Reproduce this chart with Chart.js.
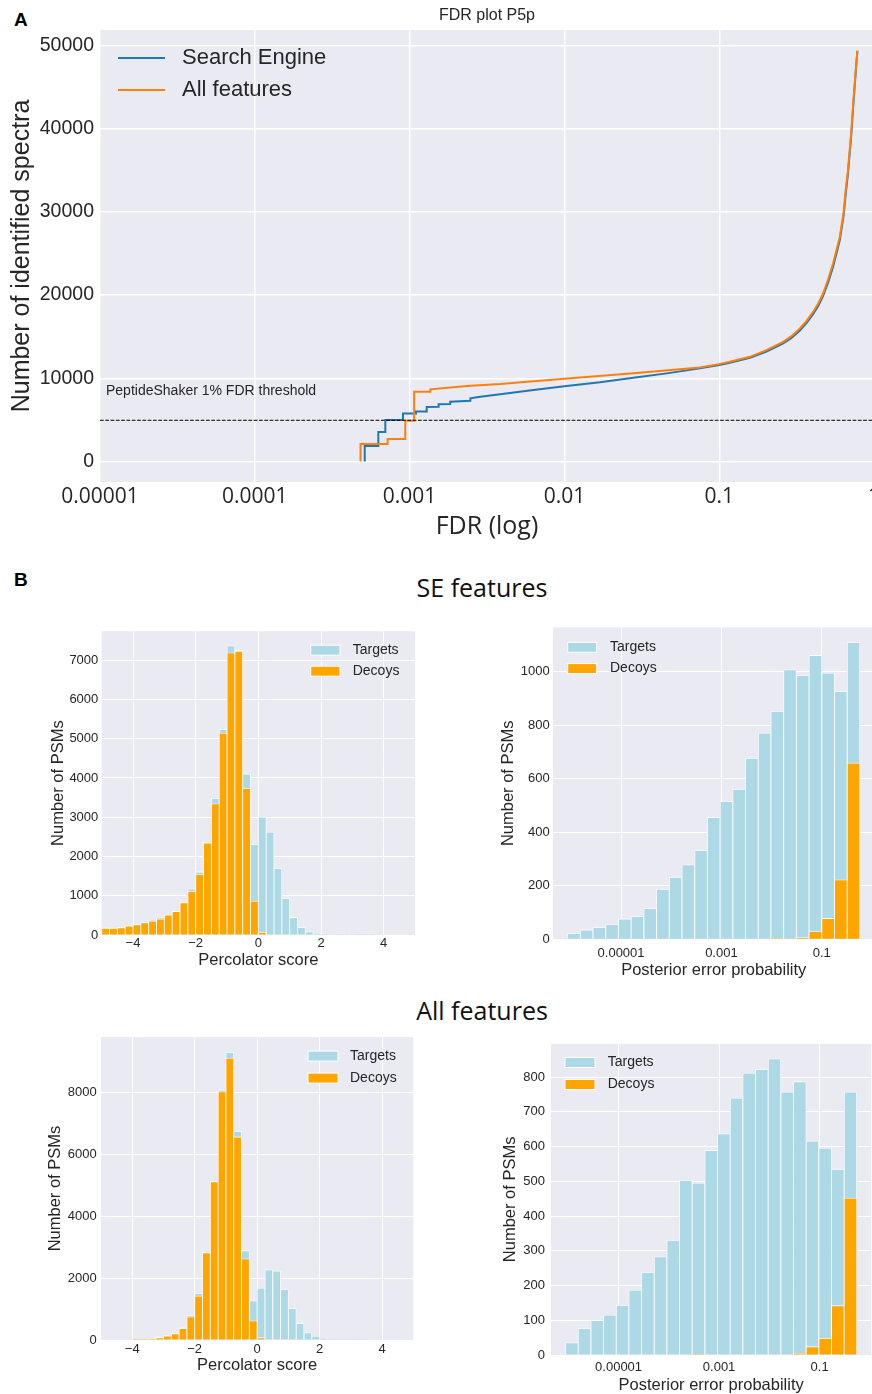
<!DOCTYPE html>
<html>
<head>
<meta charset="utf-8">
<script src="https://cdn.jsdelivr.net/npm/chart.js@4.4.1/dist/chart.umd.min.js"></script>
<style>
html,body{margin:0;padding:0;background:#fff;overflow:hidden;width:872px;height:1394px;position:relative}
canvas{position:absolute}
.lbl{position:absolute;font-family:"Liberation Sans",Arial,sans-serif;font-weight:bold;font-size:19px;line-height:19px;color:#000}
.head{position:absolute;font-family:"Open Sans","Liberation Sans",sans-serif;font-size:25px;line-height:30px;color:#111;width:400px;text-align:center}
</style>
</head>
<body>
<div class="lbl" style="left:14px;top:10px">A</div>
<div class="lbl" style="left:14px;top:570px">B</div>
<div class="head" style="left:282px;top:572px">SE features</div>
<div class="head" style="left:282px;top:995px">All features</div>
<script>
// ---------------- DATA ----------------
// Panel A: FDR curve (FDR, number of identified spectra)
const seriesNames = ['Search Engine', 'All features'];
const seFdr = [5.13e-4, 5.13e-4, 6.28e-4, 6.28e-4, 6.97e-4, 6.97e-4, 9.06e-4, 9.06e-4, 1.10e-3, 1.10e-3,
  1.29e-3, 1.29e-3, 1.54e-3, 1.54e-3, 1.83e-3, 1.83e-3, 2.47e-3, 2.47e-3, 2.86e-3, 3.85e-3,
  6.31e-3, 0.01, 0.017, 0.0279, 0.0458, 0.075, 0.1, 0.117, 0.158, 0.202,
  0.259, 0.293, 0.332, 0.367, 0.404, 0.436, 0.469, 0.505, 0.544, 0.572,
  0.601, 0.637, 0.656, 0.679, 0.714, 0.739, 0.762, 0.781];
const seCount = [0, 1860, 1860, 3540, 3540, 4980, 4980, 5780, 5780, 6000,
  6000, 6550, 6580, 6870, 6900, 7180, 7300, 7590, 7780, 8070,
  8580, 9050, 9510, 10060, 10590, 11190, 11600, 11850, 12450, 13200,
  14200, 14850, 15750, 16650, 17700, 18700, 19900, 21500, 23400, 25000,
  26600, 29600, 32100, 34600, 39400, 43500, 46800, 49350];
const allFdr = [4.82e-4, 4.82e-4, 7.21e-4, 7.21e-4, 9.38e-4, 9.38e-4, 1.07e-3, 1.07e-3, 1.36e-3, 1.36e-3,
  2.35e-3, 3.85e-3, 0.01, 0.0279, 0.075, 0.1, 0.117, 0.158, 0.202, 0.259,
  0.293, 0.332, 0.367, 0.404, 0.436, 0.469, 0.505, 0.544, 0.572, 0.601,
  0.637, 0.656, 0.679, 0.714, 0.739, 0.762, 0.781];
const allCount = [0, 2100, 2100, 2700, 2700, 4900, 4900, 8380, 8380, 8670,
  9060, 9300, 9950, 10590, 11300, 11700, 11980, 12580, 13380, 14380,
  15060, 15990, 16900, 17980, 18990, 20190, 21870, 23790, 25390, 26990,
  29990, 32590, 34990, 39800, 43790, 47000, 49400];
const fdrTicks = [1e-5, 1e-4, 1e-3, 1e-2, 1e-1, 1];
const fdrTickLabels = ['0.00001', '0.0001', '0.001', '0.01', '0.1', '1'];
const countTicks = [0, 10000, 20000, 30000, 40000, 50000];
const thresholdValue = 4950;
const thresholdLabel = 'PeptideShaker 1% FDR threshold';

// Panel B: histograms
const histNames = ['Targets', 'Decoys'];
const percBinCenters = [-4.875, -4.625, -4.375, -4.125, -3.875, -3.625, -3.375, -3.125, -2.875, -2.625,
  -2.375, -2.125, -1.875, -1.625, -1.375, -1.125, -0.875, -0.625, -0.375, -0.125,
  0.125, 0.375, 0.625, 0.875, 1.125, 1.375, 1.625, 1.875, 2.125, 2.375,
  2.625, 2.875, 3.125, 3.375, 3.625, 3.875, 4.125, 4.375, 4.625, 4.875];
const percTicks = [-4, -2, 0, 2, 4];
const percTickLabels = ['\u22124', '\u22122', '0', '2', '4'];
// SE features – Percolator score
const seScoreTargets = [180, 175, 190, 235, 265, 315, 380, 440, 515, 605,
  825, 1176, 1607, 2360, 3485, 5237, 7369, 7250, 4103, 2310,
  3003, 2623, 1692, 931, 448, 190, 80, 50, 25, 12,
  6, 3, 2, 1, 1, 0, 0, 0, 0, 0];
const seScoreDecoys = [170, 170, 186, 228, 262, 313, 355, 406, 508, 600,
  820, 1117, 1540, 2343, 3342, 5144, 7191, 7230, 3739, 863,
  68, 0, 0, 0, 0, 0, 0, 0, 0, 0,
  0, 0, 0, 0, 0, 0, 0, 0, 0, 0];
const seScoreTicks = [0, 1000, 2000, 3000, 4000, 5000, 6000, 7000];
// All features – Percolator score
const afScoreTargets = [0, 0, 0, 0, 5, 15, 40, 80, 140, 210,
  390, 800, 1500, 2840, 5130, 8090, 9300, 6750, 2890, 1265,
  1680, 2270, 2230, 1630, 1020, 535, 235, 130, 55, 20,
  8, 4, 2, 1, 0, 0, 0, 0, 0, 0];
const afScoreDecoys = [0, 0, 0, 0, 3, 10, 30, 75, 130, 200,
  375, 750, 1425, 2820, 5120, 8030, 9125, 6570, 2625, 620,
  75, 0, 0, 0, 0, 0, 0, 0, 0, 0,
  0, 0, 0, 0, 0, 0, 0, 0, 0, 0];
const afScoreTicks = [0, 2000, 4000, 6000, 8000];
// SE features – posterior error probability (log bins)
const pepSeBinCenters = [1.151e-6, 2.06e-6, 3.69e-6, 6.62e-6, 1.186e-5, 2.12e-5, 3.81e-5, 6.82e-5, 1.222e-4, 2.19e-4,
  3.93e-4, 7.03e-4, 1.262e-3, 2.26e-3, 4.05e-3, 7.26e-3, 0.0130, 0.0233, 0.0418, 0.0748,
  0.134, 0.240, 0.431];
const pepSeTargets = [22, 35, 44, 56, 76, 85, 115, 187, 232, 278,
  331, 455, 514, 560, 676, 770, 851, 1006, 985, 1060,
  994, 925, 1108];
const pepSeDecoys = [0, 0, 0, 0, 0, 0, 0, 0, 0, 0,
  0, 0, 0, 0, 0, 0, 3, 2, 6, 29,
  78, 222, 658];
const pepSeTicksY = [0, 200, 400, 600, 800, 1000];
// All features – posterior error probability (log bins)
const pepAfBinCenters = [1.178e-6, 2.10e-6, 3.76e-6, 6.71e-6, 1.199e-5, 2.14e-5, 3.83e-5, 6.84e-5, 1.222e-4, 2.18e-4,
  3.90e-4, 6.97e-4, 1.245e-3, 2.22e-3, 3.97e-3, 7.10e-3, 0.01268, 0.02265, 0.0405, 0.0723,
  0.1291, 0.2307, 0.412];
const pepAfTargets = [35, 76, 99, 115, 143, 187, 238, 283, 330, 503,
  495, 589, 637, 740, 812, 822, 853, 757, 787, 616,
  596, 535, 757];
const pepAfDecoys = [0, 0, 0, 0, 0, 0, 0, 0, 0, 0,
  2, 0, 0, 0, 0, 0, 0, 0, 5, 24,
  48, 142, 452];
const pepAfTicksY = [0, 100, 200, 300, 400, 500, 600, 700, 800];
const pepTicks = [1e-5, 1e-3, 1e-1];
const pepTickLabels = ['0.00001', '0.001', '0.1'];

// ---------------- STYLE ----------------
const SANS = "'Liberation Sans', Arial, sans-serif";
const OPEN = "'Open Sans', 'Liberation Sans', sans-serif";
const TXT = '#262626';
const BG = '#EAEAF2';
const C_BLUE = '#1f77b4', C_ORANGE = '#ff7f0e';
const C_TGT = '#ADD8E6', C_DEC = '#FFA500';

const bgPlugin = {
  id: 'bg',
  beforeDraw(chart) {
    const {ctx, chartArea: a} = chart;
    ctx.save(); ctx.fillStyle = BG;
    ctx.fillRect(a.left, a.top, a.right - a.left, a.bottom - a.top);
    ctx.restore();
  }
};
const legendPlugin = {
  id: 'inLegend',
  afterDraw(chart, args, o) {
    if (!o || !o.kind) return;
    const {ctx, chartArea: a} = chart;
    ctx.save();
    ctx.font = o.font; ctx.textBaseline = 'middle'; ctx.textAlign = 'left';
    chart.data.datasets.forEach((ds, i) => {
      const y = a.top + o.y + i * o.dy;
      if (o.kind === 'line') {
        ctx.strokeStyle = ds.borderColor; ctx.lineWidth = 2;
        ctx.beginPath(); ctx.moveTo(a.left + o.x0, y); ctx.lineTo(a.left + o.x1, y); ctx.stroke();
      } else {
        ctx.fillStyle = ds.backgroundColor;
        ctx.fillRect(a.left + o.x0, y - o.h / 2, o.x1 - o.x0, o.h);
        ctx.strokeStyle = '#fff'; ctx.lineWidth = 1;
        ctx.strokeRect(a.left + o.x0, y - o.h / 2, o.x1 - o.x0, o.h);
      }
      ctx.fillStyle = TXT;
      ctx.fillText(ds.label, a.left + o.tx, y);
    });
    ctx.restore();
  }
};
const thrPlugin = {
  id: 'thr',
  afterDatasetsDraw(chart, args, o) {
    if (!o || o.value === undefined) return;
    const {ctx, chartArea: a} = chart;
    const y = chart.scales.y.getPixelForValue(o.value);
    ctx.save();
    ctx.strokeStyle = '#000'; ctx.lineWidth = 1; ctx.setLineDash([3.7, 1.6]);
    ctx.beginPath(); ctx.moveTo(a.left, y); ctx.lineTo(a.right, y); ctx.stroke();
    ctx.setLineDash([]);
    ctx.fillStyle = TXT; ctx.font = o.font; ctx.textBaseline = 'middle'; ctx.textAlign = 'left';
    ctx.fillText(o.text, a.left + o.dx, y - o.dy);
    ctx.restore();
  }
};
const ttlPlugin = {
  id: 'ttl',
  afterDraw(chart, args, o) {
    if (!o || !o.text) return;
    const {ctx, chartArea: a} = chart;
    ctx.save(); ctx.fillStyle = TXT; ctx.font = o.font;
    ctx.textAlign = 'center'; ctx.textBaseline = 'middle';
    ctx.fillText(o.text, (a.left + a.right) / 2, o.y);
    ctx.restore();
  }
};

function build(cfg) {
  const c = document.createElement('canvas');
  const b = cfg.box, ar = cfg.area;
  c.width = b.w; c.height = b.h;
  c.style.left = b.x + 'px'; c.style.top = b.y + 'px';
  c.style.width = b.w + 'px'; c.style.height = b.h + 'px';
  document.body.appendChild(c);
  const yW = ar.l - b.x, xH = b.y + b.h - ar.b;
  return new Chart(c.getContext('2d'), {
    type: cfg.type,
    data: {datasets: cfg.datasets},
    options: {
      responsive: false, animation: false, devicePixelRatio: 1, events: [],
      layout: {padding: {top: ar.t - b.y, right: b.x + b.w - ar.r, left: 0, bottom: 0}},
      plugins: {
        legend: {display: false}, tooltip: {enabled: false},
        inLegend: cfg.legend, thr: cfg.thr || {}, ttl: cfg.title || {}
      },
      scales: {
        x: {
          type: cfg.xType, min: cfg.xMin, max: cfg.xMax, bounds: 'data', offset: false,
          afterFit: s => { s.height = xH; },
          afterBuildTicks: s => { s.ticks = cfg.xTicks.map(v => ({value: v})); },
          grid: {color: '#ffffff', lineWidth: cfg.gridW, drawTicks: false, offset: false},
          border: {display: false},
          ticks: {autoSkip: false, maxRotation: 0, minRotation: 0, padding: cfg.xTickPad, color: TXT,
            font: {family: cfg.xTickFamily, size: cfg.xTickSize},
            callback: (v, i) => cfg.xLabels[i]},
          title: {display: true, text: cfg.xTitle, color: TXT,
            font: {family: cfg.xTitleFamily, size: cfg.xTitleSize},
            padding: {top: 0, bottom: cfg.xTitlePad}}
        },
        y: {
          type: 'linear', min: cfg.yMin, max: cfg.yMax, bounds: 'data',
          afterFit: s => { s.width = yW; },
          afterBuildTicks: s => { s.ticks = cfg.yTicks.map(v => ({value: v})); },
          grid: {color: '#ffffff', lineWidth: cfg.gridW, drawTicks: false},
          border: {display: false},
          ticks: {autoSkip: false, padding: cfg.yTickPad, color: TXT,
            font: {family: SANS, size: cfg.yTickSize},
            callback: v => String(v)},
          title: {display: true, text: cfg.yTitle, color: TXT,
            font: {family: SANS, size: cfg.yTitleSize},
            padding: {top: cfg.yTitlePad, bottom: 0}}
        }
      }
    },
    plugins: [bgPlugin, legendPlugin, thrPlugin, ttlPlugin]
  });
}

function pts(xs, ys) { return xs.map((x, i) => ({x: x, y: ys[i]})); }
function histSets(centers, tgt, dec) {
  const common = {grouped: false, barPercentage: 1, categoryPercentage: 1,
    borderColor: '#ffffff', borderWidth: 0.8, borderSkipped: 'start'};
  return [
    Object.assign({label: histNames[0], data: pts(centers, tgt), backgroundColor: C_TGT, order: 1}, common),
    Object.assign({label: histNames[1], data: pts(centers, dec), backgroundColor: C_DEC, order: 0}, common)
  ];
}

// ---------------- PANEL A ----------------
build({
  type: 'line',
  box: {x: 0, y: 0, w: 890, h: 545},
  area: {l: 100, t: 30, r: 874, b: 482},
  datasets: [
    {label: seriesNames[0], data: pts(seFdr, seCount), borderColor: C_BLUE, borderWidth: 2,
      pointRadius: 0, tension: 0, fill: false, order: 1},
    {label: seriesNames[1], data: pts(allFdr, allCount), borderColor: C_ORANGE, borderWidth: 2,
      pointRadius: 0, tension: 0, fill: false, order: 0}
  ],
  xType: 'logarithmic', xMin: 1e-5, xMax: 1, xTicks: fdrTicks, xLabels: fdrTickLabels,
  xTickPad: 2.4, xTickFamily: OPEN, xTickSize: 21,
  xTitle: 'FDR (log)', xTitleFamily: OPEN, xTitleSize: 25, xTitlePad: 3,
  yMin: -2470, yMax: 51870, yTicks: countTicks, yTickPad: 6, yTickSize: 19.5,
  yTitle: 'Number of identified spectra', yTitleSize: 25, yTitlePad: 7,
  gridW: 1.4,
  legend: {kind: 'line', x0: 18, x1: 65, y: 28, dy: 32, tx: 82, font: '22px ' + SANS},
  thr: {value: thresholdValue, text: thresholdLabel, dx: 6, dy: 29, font: '14px ' + SANS},
  title: {text: 'FDR plot P5p', y: 16, font: '16px ' + SANS}
});

// ---------------- PANEL B: SE features ----------------
build({
  type: 'bar',
  box: {x: 30, y: 620, w: 400, h: 360},
  area: {l: 101.7, t: 630, r: 415, b: 935},
  datasets: histSets(percBinCenters, seScoreTargets, seScoreDecoys),
  xType: 'linear', xMin: -5, xMax: 5, xTicks: percTicks, xLabels: percTickLabels,
  xTickPad: 1, xTickFamily: SANS, xTickSize: 13,
  xTitle: 'Percolator score', xTitleFamily: SANS, xTitleSize: 16.5, xTitlePad: 10,
  yMin: 0, yMax: 7740, yTicks: seScoreTicks, yTickPad: 3.4, yTickSize: 13,
  yTitle: 'Number of PSMs', yTitleSize: 16.5, yTitlePad: 18.4,
  gridW: 1,
  legend: {kind: 'box', x0: 209, x1: 238.3, h: 10, y: 19, dy: 21, tx: 251, font: '14px ' + SANS}
});
build({
  type: 'bar',
  box: {x: 480, y: 615, w: 410, h: 370},
  area: {l: 553, t: 627.3, r: 874.5, b: 939.3},
  datasets: histSets(pepSeBinCenters, pepSeTargets, pepSeDecoys),
  xType: 'logarithmic', xMin: 4.40e-7, xMax: 1.127, xTicks: pepTicks, xLabels: pepTickLabels,
  xTickPad: 6, xTickFamily: SANS, xTickSize: 13,
  xTitle: 'Posterior error probability', xTitleFamily: SANS, xTitleSize: 16.5, xTitlePad: 5,
  yMin: 0, yMax: 1165, yTicks: pepSeTicksY, yTickPad: 3.3, yTickSize: 13,
  yTitle: 'Number of PSMs', yTitleSize: 16.5, yTitlePad: 18.4,
  gridW: 1,
  legend: {kind: 'box', x0: 14.7, x1: 43.7, h: 10, y: 20, dy: 21.3, tx: 57, font: '14px ' + SANS}
});

// ---------------- PANEL B: All features ----------------
build({
  type: 'bar',
  box: {x: 30, y: 1025, w: 400, h: 360},
  area: {l: 101, t: 1035, r: 413.3, b: 1340},
  datasets: histSets(percBinCenters, afScoreTargets, afScoreDecoys),
  xType: 'linear', xMin: -5, xMax: 5, xTicks: percTicks, xLabels: percTickLabels,
  xTickPad: 2, xTickFamily: SANS, xTickSize: 13,
  xTitle: 'Percolator score', xTitleFamily: SANS, xTitleSize: 16.5, xTitlePad: 10,
  yMin: 0, yMax: 9800, yTicks: afScoreTicks, yTickPad: 4.3, yTickSize: 13,
  yTitle: 'Number of PSMs', yTitleSize: 16.5, yTitlePad: 15.1,
  gridW: 1,
  legend: {kind: 'box', x0: 207, x1: 237, h: 10, y: 19, dy: 22, tx: 249, font: '14px ' + SANS}
});
build({
  type: 'bar',
  box: {x: 480, y: 1030, w: 410, h: 370},
  area: {l: 551, t: 1043.3, r: 871.3, b: 1355},
  datasets: histSets(pepAfBinCenters, pepAfTargets, pepAfDecoys),
  xType: 'logarithmic', xMin: 4.52e-7, xMax: 1.07, xTicks: pepTicks, xLabels: pepTickLabels,
  xTickPad: 5, xTickFamily: SANS, xTickSize: 13,
  xTitle: 'Posterior error probability', xTitleFamily: SANS, xTitleSize: 16.5, xTitlePad: 5,
  yMin: 0, yMax: 896, yTicks: pepAfTicksY, yTickPad: 6, yTickSize: 13,
  yTitle: 'Number of PSMs', yTitleSize: 16.5, yTitlePad: 20.6,
  gridW: 1,
  legend: {kind: 'box', x0: 14, x1: 44, h: 10, y: 18.7, dy: 22, tx: 56.7, font: '14px ' + SANS}
});
</script>
</body>
</html>
